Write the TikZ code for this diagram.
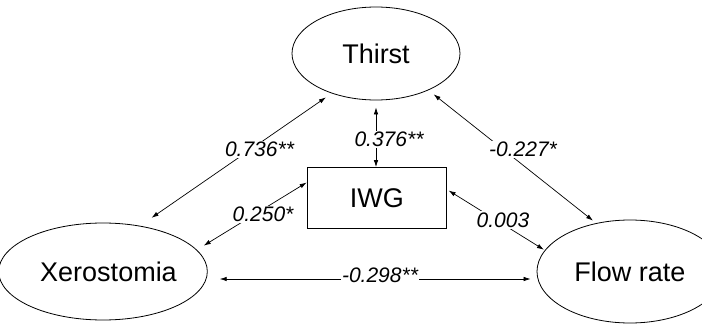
\documentclass[tikz,border=0pt]{standalone}
\usepackage{fontspec}
\setmainfont{Liberation Sans}
\usetikzlibrary{arrows.meta,shapes.geometric}

\tikzset{
  var/.style={draw, line width=0.8pt, inner sep=0pt,
    font=\fontsize{27}{31}\selectfont},
  oval/.style={var, ellipse},
  boxvar/.style={var, rectangle},
  link/.style={line width=0.7pt, {Latex[length=7pt,width=4.5pt]}-{Latex[length=7pt,width=4.5pt]}},
  coef/.style={fill=white, inner sep=1.5pt, font=\fontsize{21}{24}\selectfont\itshape}
}

\begin{document}
\begin{tikzpicture}[x=1pt, y=-1pt]
  \useasboundingbox (0,0) rectangle (702,324);

  % variables
  \node[oval, minimum width=168pt, minimum height=93pt] (thirst) at (376,53.5) {Thirst};
  \node[oval, minimum width=192pt, minimum height=97pt] (xero) at (103,271.5) {\hspace*{11pt}Xerostomia};
  \node[oval, minimum width=186pt, minimum height=103pt] (flow) at (630,271.5) {Flow rate};
  \node[boxvar, minimum width=139.5pt, minimum height=61pt] (iwg) at (376.8,198) {IWG};

  % correlations
  \draw[link, shorten <=14pt, shorten >=7pt] (xero.51.5) -- (thirst.222.2);
  \draw[link, shorten <=7pt] (thirst.south) -- (thirst.south |- iwg.north);
  \draw[link, shorten <=6.6pt, shorten >=4pt] (thirst.-35.4) -- (flow.125.7);
  \draw[link, shorten <=8pt] (xero.13.3) -- ([yshift=15.5pt]iwg.west);
  \draw[link, shorten <=2pt, shorten >=1pt] ([yshift=8.5pt]iwg.east) -- (flow.166.3);
  \draw[link] ([xshift=12pt,yshift=-7.5pt]xero.east) -- ([xshift=-6pt,yshift=-7.5pt]flow.west);

  % coefficients
  \node[coef] (c1) at (259.5,149.5) {0.736**};
  \node[coef] (c2) at (389,139.5) {0.376**};
  \node[coef] (c3) at (523,149.5) {-0.227*};
  \node[coef] (c4) at (263,214.5) {0.250*};
  \node[coef] (c5) at (503,220) {0.003};
  \node[coef] (c6) at (380,275.5) {-0.298**};
\end{tikzpicture}
\end{document}
